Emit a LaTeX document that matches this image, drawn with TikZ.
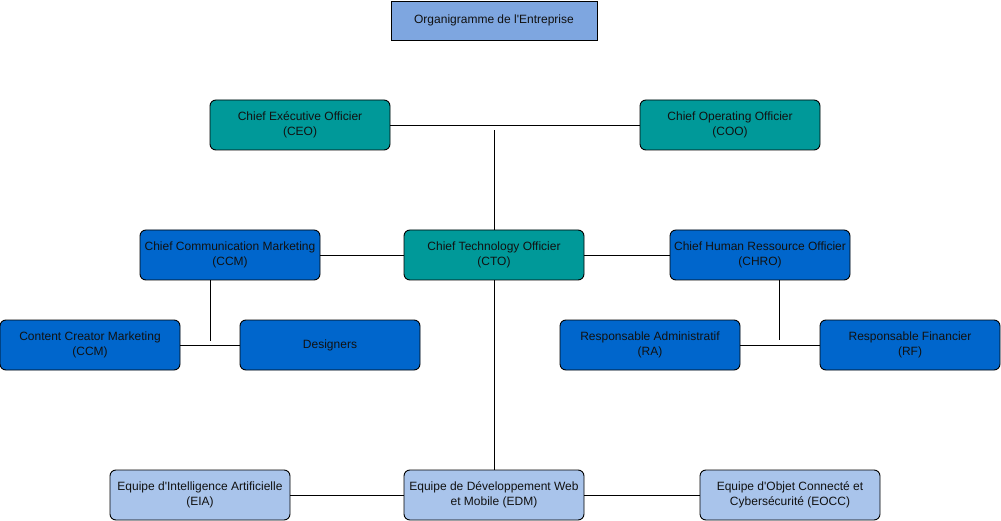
\documentclass[tikz,border=0pt]{standalone}
\usepackage{fontspec}
\setmainfont{Liberation Sans}[Ligatures=TeXOff]
\definecolor{titleblue}{HTML}{7EA6E0}
\definecolor{teal}{HTML}{009999}
\definecolor{midblue}{HTML}{0066CC}
\definecolor{lightblue}{HTML}{A9C4EB}
\definecolor{txt}{HTML}{111111}
\tikzset{
  box/.style={draw=black, line width=0.9pt, rounded corners=6pt, minimum width=180pt, minimum height=50pt, inner sep=0pt, align=center, text=txt, font=\fontsize{12}{15}\selectfont},
  tealbox/.style={box, fill=teal},
  bluebox/.style={box, fill=midblue},
  lightbox/.style={box, fill=lightblue},
  titlebox/.style={draw=black, line width=0.9pt, fill=titleblue, minimum width=206pt, minimum height=39pt, inner sep=0pt, align=center, text=txt, font=\fontsize{12}{15}\selectfont},
  link/.style={draw=black, line width=0.9pt}
}
\begin{document}
\begin{tikzpicture}[x=1pt,y=-1pt]
\useasboundingbox (0,0) rectangle (1001,521);
\node[titlebox] (title) at (494,20.5) {Organigramme de l'Entreprise};
\node[tealbox] (ceo) at (300,125) {Chief Exécutive Officier\\(CEO)};
\node[tealbox] (coo) at (730,125) {Chief Operating Officier\\(COO)};
\node[bluebox] (ccm) at (230,255) {Chief Communication Marketing\\(CCM)};
\node[tealbox] (cto) at (494,255) {Chief Technology Officier\\(CTO)};
\node[bluebox] (chro) at (760,255) {Chief Human Ressource Officier\\(CHRO)};
\node[bluebox] (ccm2) at (90,345) {Content Creator Marketing\\(CCM)};
\node[bluebox] (des) at (330,345) {Designers};
\node[bluebox] (ra) at (650,345) {Responsable Administratif\\(RA)};
\node[bluebox] (rf) at (910,345) {Responsable Financier\\(RF)};
\node[lightbox] (eia) at (200,495) {Equipe d'Intelligence Artificielle\\(EIA)};
\node[lightbox] (edm) at (494,495) {Equipe de Développement Web\\et Mobile (EDM)};
\node[lightbox] (eocc) at (790,495) {Equipe d'Objet Connecté et\\Cybersécurité (EOCC)};
\coordinate (j1) at (494,130);
\coordinate (j2) at (210,341);
\coordinate (j3) at (779,340);
\draw[link] (ceo.east) -- (coo.west);
\draw[link] (cto.north) -- (j1);
\draw[link] (ccm.east) -- (cto.west);
\draw[link] (cto.east) -- (chro.west);
\draw[link] (ccm2.east) -- (des.west);
\draw[link] (ccm.south -| j2) -- (j2);
\draw[link] (ra.east) -- (rf.west);
\draw[link] (chro.south -| j3) -- (j3);
\draw[link] (cto.south) -- (edm.north);
\draw[link] (eia.east) -- (edm.west);
\draw[link] (edm.east) -- (eocc.west);
\end{tikzpicture}
\end{document}
